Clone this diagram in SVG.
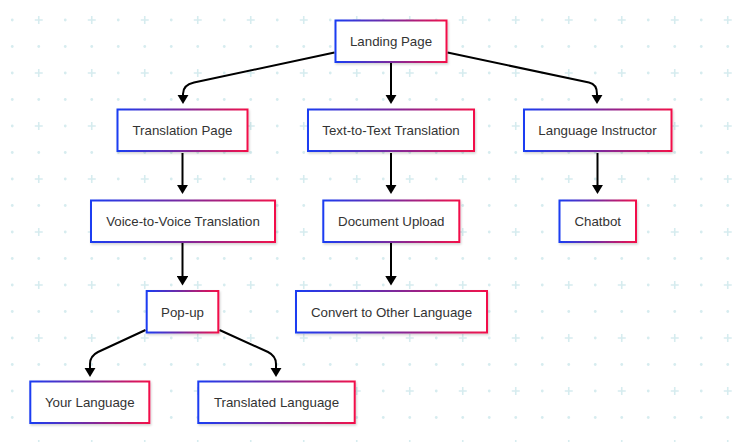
<svg xmlns="http://www.w3.org/2000/svg" width="743" height="442" viewBox="0 0 743 442">
<style>
.node rect{fill:#ffffff;stroke:url(#border);stroke-width:2;filter:url(#shadow)}
.node text{font-family:"Liberation Sans",Arial,sans-serif;font-size:13.3px;fill:#333333;text-anchor:middle;dominant-baseline:central}
.edge{fill:none;stroke:#000000;stroke-width:2;marker-end:url(#arrow)}
</style>
<defs>
<linearGradient id="border" x1="0" y1="0" x2="1" y2="0">
<stop offset="0" stop-color="#1a3cf2"/>
<stop offset="0.5" stop-color="#7a2a9e"/>
<stop offset="1" stop-color="#f2104a"/>
</linearGradient>
<filter id="shadow" x="-10%" y="-20%" width="120%" height="150%">
<feDropShadow dx="1" dy="1.5" stdDeviation="1.2" flood-color="#000000" flood-opacity="0.18"/>
</filter>
<pattern id="bg" patternUnits="userSpaceOnUse" x="0" y="0" width="53" height="53">
<circle cx="12.25" cy="20" r="1.4" fill="#d6ecef"/>
<circle cx="12.25" cy="46.5" r="1.4" fill="#d6ecef"/>
<circle cx="38.75" cy="46.5" r="1.4" fill="#d6ecef"/>
<path d="M34.75,20 H42.75 M38.75,16 V24" stroke="#d6ecef" stroke-width="1.6"/>
</pattern>
<marker id="arrow" viewBox="0 0 9.5 11.5" refX="1.5" refY="5.75" markerWidth="9.5" markerHeight="11.5" markerUnits="userSpaceOnUse" orient="auto">
<path d="M0,0 L9.5,5.75 L0,11.5 z" fill="#000000"/>
</marker>
</defs>
<rect x="0" y="0" width="743" height="442" fill="#ffffff"/>
<rect x="0" y="0" width="743" height="442" fill="url(#bg)"/>
<g id="connectors">
<path class="edge" d="M334.5,52.5 L194,82.6 C186,84.3 183,88 183,94 L183,96"/>
<path class="edge" d="M391,62.5 L391,96"/>
<path class="edge" d="M447.5,52.5 L589,82.6 C594,83.7 597,88 597,94 L597,96"/>
<path class="edge" d="M182.5,153 L182.5,186"/>
<path class="edge" d="M391,153 L391,186"/>
<path class="edge" d="M597.5,153 L597.5,186"/>
<path class="edge" d="M182.5,243 L182.5,277.5"/>
<path class="edge" d="M391,243 L391,277.5"/>
<path class="edge" d="M145.5,330 L98,352 C93,354.5 90,358 90,364 L90,369"/>
<path class="edge" d="M219.5,330 L268,352 C273,354.5 276,358 276,364 L276,369"/>
</g>
<g id="landing" class="node"><rect x="335.5" y="20.5" width="111" height="41.5"/><text x="391" y="41">Landing Page</text></g>
<g id="translation" class="node"><rect x="117.5" y="109.5" width="130" height="41.5"/><text x="182.5" y="130.5">Translation Page</text></g>
<g id="text2text" class="node"><rect x="308" y="109.5" width="166" height="41.5"/><text x="391" y="130.5">Text-to-Text Translation</text></g>
<g id="instructor" class="node"><rect x="524" y="109.5" width="147.5" height="41.5"/><text x="597.5" y="130.5">Language Instructor</text></g>
<g id="voice" class="node"><rect x="91" y="200.5" width="184" height="41.5"/><text x="183" y="221.5">Voice-to-Voice Translation</text></g>
<g id="document" class="node"><rect x="323.3" y="200.5" width="136" height="41.5"/><text x="391.3" y="221.5">Document Upload</text></g>
<g id="chatbot" class="node"><rect x="559.5" y="200.5" width="76.5" height="41.5"/><text x="597.7" y="221.5">Chatbot</text></g>
<g id="convert" class="node"><rect x="296" y="291" width="191" height="41.5"/><text x="391.5" y="312">Convert to Other Language</text></g>
<g id="popup" class="node"><rect x="146.7" y="291" width="71.6" height="41.5"/><text x="182.5" y="312">Pop-up</text></g>
<g id="yourlang" class="node"><rect x="30.3" y="381.5" width="119" height="41.5"/><text x="89.8" y="402.5">Your Language</text></g>
<g id="translated" class="node"><rect x="198.3" y="381.5" width="156.4" height="41.5"/><text x="276.5" y="402.5">Translated Language</text></g>
</svg>
